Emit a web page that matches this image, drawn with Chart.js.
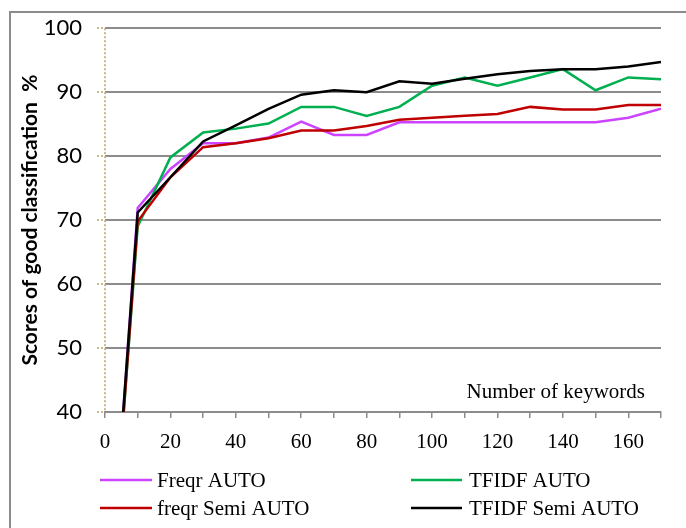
<!DOCTYPE html>
<html>
<head>
<meta charset="utf-8">
<script src="https://cdn.jsdelivr.net/npm/chart.js@4/dist/chart.umd.min.js"></script>
<style>
  body { margin: 0; background: #fff; }
  #box { width: 686px; height: 528px; position: relative; }
</style>
</head>
<body>
<div id="box"><canvas id="myChart"></canvas></div>
<script>
// DATA - values
const keywords = [5, 10, 20, 30, 40, 50, 60, 70, 80, 90, 100, 110, 120, 130, 140, 150, 160, 170];
const freqrAuto     = [36, 71.9, 78.0, 82.0, 82.0, 82.9, 85.4, 83.3, 83.3, 85.3, 85.3, 85.3, 85.3, 85.3, 85.3, 85.3, 86.0, 87.4];
const tfidfAuto     = [35, 69.0, 79.8, 83.7, 84.3, 85.1, 87.7, 87.7, 86.3, 87.7, 91.0, 92.3, 91.0, 92.3, 93.6, 90.3, 92.3, 92.0];
const freqrSemiAuto = [35, 69.8, 76.7, 81.4, 82.0, 82.8, 84.0, 84.0, 84.7, 85.7, 86.0, 86.3, 86.6, 87.7, 87.3, 87.3, 88.0, 88.0];
const tfidfSemiAuto = [36, 71.2, 76.7, 82.3, 84.8, 87.4, 89.6, 90.3, 90.0, 91.7, 91.3, 92.1, 92.8, 93.3, 93.6, 93.6, 94.0, 94.7];

const seriesNames  = ['Freqr AUTO', 'TFIDF AUTO', 'freqr Semi AUTO', 'TFIDF Semi AUTO'];
const seriesValues = [freqrAuto, tfidfAuto, freqrSemiAuto, tfidfSemiAuto];
const seriesColors = ['#cc44ff', '#00b050', '#c00000', '#000000'];
const seriesOrder  = [4, 3, 2, 1]; // black on top

const yTitle = 'Scores of good classification  %';
const xTitle = 'Number of keywords';

const gridGray = '#8c8c8c';
const dotTan = '#c8b88a';

// datasets
const datasets = seriesNames.map((name, i) => ({
  label: name,
  data: keywords.map((k, j) => ({ x: k, y: seriesValues[i][j] })),
  borderColor: seriesColors[i],
  backgroundColor: seriesColors[i],
  borderWidth: 2.5,
  pointRadius: 0,
  tension: 0,
  order: seriesOrder[i]
}));

// frame, dotted y axis line, legend and the inner x title
const extras = {
  id: 'extras',
  beforeDraw(chart) {
    const ctx = chart.ctx;
    ctx.save();
    ctx.fillStyle = '#fff';
    ctx.fillRect(0, 0, chart.width, chart.height);
    ctx.strokeStyle = gridGray;
    ctx.lineWidth = 2;
    ctx.strokeRect(10, 12, 700, 600);
    ctx.restore();
  },
  afterDraw(chart) {
    const ctx = chart.ctx;
    const area = chart.chartArea;
    ctx.save();
    // dotted y axis
    ctx.strokeStyle = dotTan;
    ctx.lineWidth = 2;
    ctx.setLineDash([2, 2]);
    ctx.beginPath();
    ctx.moveTo(area.left, area.top);
    ctx.lineTo(area.left, area.bottom);
    ctx.stroke();
    ctx.setLineDash([]);

    ctx.font = '21px "Liberation Serif"';
    ctx.fillStyle = '#000';
    ctx.textBaseline = 'middle';
    ctx.textAlign = 'right';
    ctx.fillText(xTitle, 645, 392);

    // legend in two columns
    const cols = [[100, 152, 157], [411, 462, 469]];
    const rows = [480, 508];
    ctx.textAlign = 'left';
    seriesNames.forEach((name, i) => {
      const c = cols[i % 2];
      const y = rows[Math.floor(i / 2)];
      ctx.strokeStyle = seriesColors[i];
      ctx.lineWidth = 2.5;
      ctx.beginPath();
      ctx.moveTo(c[0], y);
      ctx.lineTo(c[1], y);
      ctx.stroke();
      ctx.fillText(name, c[2], y + 1);
    });
    ctx.restore();
  }
};

const config = {
  type: 'line',
  data: { datasets: datasets },
  options: {
    responsive: true,
    maintainAspectRatio: false,
    animation: false,
    layout: { padding: { top: 28, right: 25, left: 0, bottom: 0 } },
    plugins: {
      legend: { display: false },
      tooltip: { enabled: false }
    },
    scales: {
      x: {
        type: 'linear',
        min: 0,
        max: 170,
        afterFit: (scale) => { scale.height = 116; },
        ticks: {
          stepSize: 10,
          autoSkip: false,
          maxRotation: 0,
          padding: 12,
          color: '#000',
          font: { family: '"Liberation Serif"', size: 21 },
          callback: (v) => (v % 20 === 0 && v <= 160) ? v : ''
        },
        grid: {
          drawOnChartArea: false,
          drawTicks: true,
          tickLength: 6,
          color: gridGray,
          lineWidth: 1.5
        },
        border: { color: gridGray, width: 2 }
      },
      y: {
        min: 40,
        max: 100,
        afterFit: (scale) => { scale.width = 105; },
        ticks: {
          stepSize: 10,
          padding: 15,
          color: '#000',
          font: { family: 'Lato', size: 22 }
        },
        grid: {
          color: gridGray,
          lineWidth: 2,
          tickLength: 8,
          tickColor: dotTan,
          tickWidth: 2,
          tickBorderDash: [2, 2]
        },
        border: { display: false },
        title: {
          display: true,
          text: yTitle,
          color: '#000',
          font: { family: 'Lato', size: 21, weight: 'bold' },
          padding: { top: 18, bottom: 0 }
        }
      }
    }
  },
  plugins: [extras]
};

const myChart = new Chart(document.getElementById('myChart'), config);
</script>
</body>
</html>
